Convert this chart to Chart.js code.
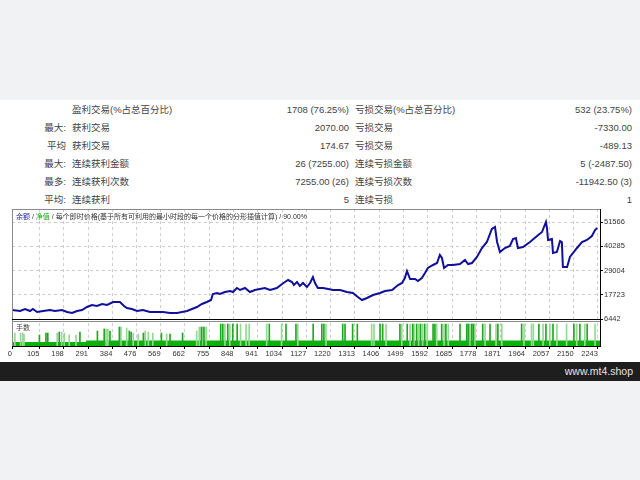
<!DOCTYPE html>
<html>
<head>
<meta charset="utf-8">
<script src="https://cdn.jsdelivr.net/npm/chart.js@4.4.0/dist/chart.umd.min.js"></script>
<style>
html, body { margin: 0; padding: 0; }
body { width: 640px; height: 480px; position: relative; overflow: hidden; background: #f1f2f4;
       font-family: "Liberation Sans", "Noto Sans CJK SC", sans-serif; }
#sheet { position: absolute; left: 0; top: 100px; width: 640px; height: 262px; background: #fff; }
.c { position: absolute; font-size: 9.5px; line-height: 14px; color: #444; white-space: nowrap; }
.r { text-align: right; }
#foot { position: absolute; left: 0; top: 362px; width: 640px; height: 19px; background: #1e1e1e; }
#foot span { position: absolute; right: 7px; top: 3px; font-size: 10.5px; color: #e4e4e4; }
#chart { position: absolute; left: 0; top: 200px; }
#cap { position: absolute; left: 16px; top: 212px; font-size: 7px; line-height: 9px; color: #333; white-space: nowrap; }
#cap .b { color: #1f1fa0; }
#cap .g { color: #19a819; }
#lots { position: absolute; left: 16px; top: 323px; font-size: 7px; line-height: 9px; color: #444; }
</style>
</head>
<body>
<div id="sheet"></div>
<div id="table"></div>
<canvas id="chart" width="640" height="162"></canvas>
<div id="cap"><span class="b">余额</span> / <span class="g">净值</span> / 每个即时价格(基于所有可利用的最小时段的每一个价格的分形插值计算) / 90.00%</div>
<div id="lots">手数</div>
<div id="foot"><span>www.mt4.shop</span></div>
<script>
// report rows
var leftHead = ['', '最大:', '平均', '最大:', '最多:', '平均:'];
var leftName = ['盈利交易(%占总百分比)', '获利交易', '获利交易', '连续获利金额', '连续获利次数', '连续获利'];
var leftVal = ['1708 (76.25%)', '2070.00', '174.67', '26 (7255.00)', '7255.00 (26)', '5'];
var rightName = ['亏损交易(%占总百分比)', '亏损交易', '亏损交易', '连续亏损金额', '连续亏损次数', '连续亏损'];
var rightVal = ['532 (23.75%)', '-7330.00', '-489.13', '5 (-2487.50)', '-11942.50 (3)', '1'];

// axes
var xTicks = [0, 105, 198, 291, 384, 476, 569, 662, 755, 848, 941, 1034, 1127, 1220, 1313, 1406, 1499, 1592, 1685, 1778, 1871, 1964, 2057, 2150, 2243];
var yTicks = [6442, 17723, 29004, 40285, 51566];

// balance curve (trade #, balance)
var balanceTrades = [0, 31, 50, 69, 80, 96, 119, 145, 165, 191, 211, 230, 249, 268, 287, 306, 325, 345, 364, 387,
    402, 413, 429, 440, 459, 479, 501, 528, 555, 578, 605, 632, 651, 670, 689, 708, 727, 746, 762, 769,
    785, 796, 815, 835, 846, 861, 873, 892, 911, 930, 949, 968, 988, 1014, 1034, 1045, 1057, 1072, 1079, 1091,
    1102, 1114, 1129, 1141, 1152, 1160, 1171, 1191, 1210, 1229, 1256, 1282, 1305, 1324, 1340, 1359, 1382, 1409, 1428, 1455,
    1478, 1493, 1504, 1512, 1524, 1543, 1554, 1569, 1581, 1592, 1612, 1627, 1638, 1646, 1654, 1669, 1688, 1715, 1734, 1746,
    1761, 1780, 1799, 1818, 1837, 1849, 1857, 1868, 1887, 1906, 1918, 1929, 1937, 1956, 1983, 2010, 2029, 2044, 2048, 2052,
    2067, 2071, 2086, 2098, 2105, 2109, 2125, 2136, 2163, 2182, 2201, 2220, 2232, 2240];
var balanceValues = [10629, 10164, 11094, 10164, 11094, 9698, 10164, 10629, 10164, 10629, 9698, 9233, 10164, 10629, 12024, 12955, 12490, 13420, 12955, 14350,
    14350, 14350, 12490, 11559, 11094, 10164, 10629, 9698, 9698, 9698, 9233, 9233, 9698, 10164, 11094, 12024, 13420, 14350, 15281, 18072,
    18537, 18072, 19002, 19468, 19002, 20863, 19933, 20863, 19002, 19933, 20398, 20863, 19933, 20863, 22724, 23654, 24585, 23654, 22259, 23654,
    21794, 23189, 21328, 23189, 25980, 23189, 20863, 20863, 20398, 19933, 19933, 19002, 18537, 16676, 15281, 16211, 17607, 18537, 19468, 19933,
    22259, 23189, 25515, 28772, 25050, 25050, 24120, 25515, 27841, 30167, 31563, 32493, 36215, 34819, 30167, 31563, 31563, 32028, 33889, 32028,
    32493, 35284, 39471, 42262, 48310, 49240, 42262, 37610, 39471, 40402, 43658, 44123, 39471, 39936, 42262, 45054, 46914, 51566, 48775, 43193,
    43658, 37145, 37610, 42728, 42262, 30632, 30632, 35284, 39471, 42262, 43193, 45054, 47845, 48775];

// lots panel
var baseTrades = [0, 283, 743, 2251];
var baseLots = [0.3, 0.4, 0.55, 0.55];
var darkTrades = [105, 130, 137, 181, 260, 327, 353, 375, 411, 449, 456, 503, 572, 605, 653, 725, 735, 799, 807, 826,
    845, 862, 985, 1049, 1087, 1153, 1186, 1194, 1266, 1275, 1304, 1322, 1409, 1419, 1485, 1513, 1534, 1549, 1564, 1580,
    1612, 1619, 1645, 1661, 1715, 1741, 1747, 1760, 1766, 1802, 1830, 1860, 1951, 2017, 2044, 2071, 2151, 2174, 2202];
var darkLots = [1.1, 1.3, 1.3, 1.4, 1.4, 1.5, 1.7, 1.5, 1.9, 1.5, 1.4, 1.3, 1.3, 1.2, 1.3, 1.9, 1.9, 2.2, 2.2, 2.2,
    2.2, 2.2, 2.2, 2.2, 2.2, 2.2, 2.2, 2.2, 2.2, 2.2, 2.2, 2.2, 2.2, 2.2, 2.2, 2.2, 2.2, 2.2, 2.2, 2.2,
    2.2, 2.2, 2.2, 2.2, 2.2, 2.2, 2.2, 2.2, 2.2, 2.2, 2.2, 2.2, 2.2, 2.2, 2.2, 2.2, 2.2, 2.2, 2.2];
var lightTrades = [11, 33, 41, 46, 173, 190, 200, 219, 245, 360, 367, 417, 439, 464, 483, 510, 522, 539, 592, 707,
    717, 730, 743, 815, 834, 875, 896, 908, 975, 1032, 1094, 1202, 1377, 1386, 1432, 1492, 1524, 1539, 1557, 1572,
    1589, 1626, 1654, 1670, 1753, 1772, 1811, 1853, 1875, 1960, 1989, 1996, 2033, 2059, 2086, 2123, 2162, 2193, 2232];
var lightLots = [1.3, 1.3, 1.3, 1.2, 1.3, 1.4, 1.3, 1.1, 1.1, 1.7, 1.7, 1.9, 1.8, 1.3, 1.2, 1.5, 1.4, 1.3, 1.2, 1.5,
    1.9, 1.9, 1.9, 2.2, 2.2, 2.2, 2.2, 2.2, 2.2, 2.2, 2.2, 2.2, 2.2, 2.2, 2.2, 2.2, 2.2, 2.2, 2.2, 2.2,
    2.2, 2.2, 2.2, 2.2, 2.2, 2.2, 2.2, 2.2, 2.2, 2.2, 2.2, 2.2, 2.2, 2.2, 2.2, 2.2, 2.2, 2.2, 2.2];

function pairs(xs, ys) {
    return xs.map(function (x, i) { return {x: x, y: ys[i]}; });
}

// build report table
var table = document.getElementById('table');
function cell(text, left, rowTop, width, right) {
    var d = document.createElement('div');
    d.className = right ? 'c r' : 'c';
    d.textContent = text;
    d.style.top = rowTop + 'px';
    if (right) { d.style.left = (left - width) + 'px'; d.style.width = width + 'px'; }
    else d.style.left = left + 'px';
    table.appendChild(d);
}
for (var i = 0; i < leftName.length; i++) {
    var rowTop = 103 + i * 18;
    cell(leftHead[i], 66, rowTop, 60, true);
    cell(leftName[i], 72, rowTop);
    cell(leftVal[i], 349, rowTop, 120, true);
    cell(rightName[i], 355, rowTop);
    cell(rightVal[i], 632, rowTop, 120, true);
}

// frame lines of the two panes
var paneFrame = {
    id: 'paneFrame',
    afterDraw: function (chart) {
        var ctx = chart.ctx, a = chart.chartArea, mid = Math.round(chart.scales.y.bottom);
        ctx.save();
        ctx.fillStyle = '#fff';
        ctx.fillRect(a.left + 1, mid, a.right - a.left - 1, 2);
        ctx.lineWidth = 1;
        ctx.strokeStyle = '#8a8a8a';
        ctx.beginPath();
        ctx.moveTo(a.left, a.top + 0.5); ctx.lineTo(a.right, a.top + 0.5);
        ctx.moveTo(a.left + 0.5, a.top); ctx.lineTo(a.left + 0.5, a.bottom);
        ctx.moveTo(a.left, mid + 2.5); ctx.lineTo(a.right, mid + 2.5);
        ctx.stroke();
        ctx.strokeStyle = '#000';
        ctx.beginPath();
        ctx.moveTo(a.left, mid + 0.5); ctx.lineTo(a.right, mid + 0.5);
        ctx.stroke();
        ctx.restore();
    }
};

Chart.defaults.font.family = '"Liberation Sans", sans-serif';
Chart.defaults.color = '#333';

var labelFont = {size: 7.5};
function plain(v) { return String(v); }

new Chart(document.getElementById('chart'), {
    type: 'line',
    data: {
        datasets: [
            {type: 'line', data: pairs(balanceTrades, balanceValues), yAxisID: 'y',
             borderColor: '#10109a', borderWidth: 2, pointRadius: 0, tension: 0, order: 0},
            {type: 'line', data: pairs(baseTrades, baseLots), yAxisID: 'yv', stepped: 'after',
             fill: 'origin', backgroundColor: '#09b109', borderWidth: 0, pointRadius: 0, order: 3},
            {type: 'bar', data: pairs(lightTrades, lightLots), yAxisID: 'yv', backgroundColor: '#93da93',
             barThickness: 1, grouped: false, order: 2},
            {type: 'bar', data: pairs(darkTrades, darkLots), yAxisID: 'yv', backgroundColor: '#1fa81f',
             barThickness: 1, grouped: false, order: 1}
        ]
    },
    options: {
        responsive: false,
        animation: false,
        devicePixelRatio: 1,
        layout: {padding: {left: 12, top: 9, right: 0, bottom: 0}},
        plugins: {legend: {display: false}, tooltip: {enabled: false}},
        scales: {
            x: {
                type: 'linear', min: 0, max: 2251, offset: false,
                grid: {offset: false, color: '#cdcdcd', tickColor: '#000', tickLength: 3, tickBorderDash: []},
                border: {display: true, color: '#000', dash: [3, 3]},
                ticks: {font: labelFont, align: 'end', padding: 0, maxRotation: 0, autoSkip: false, callback: plain},
                afterBuildTicks: function (s) { s.ticks = xTicks.map(function (v) { return {value: v}; }); },
                afterFit: function (s) { s.height = 16; }
            },
            y: {
                position: 'right', stack: 'panes', stackWeight: 110, min: 6442, max: 57614,
                grid: {color: '#cdcdcd', tickColor: '#000', tickLength: 3, tickBorderDash: []},
                border: {display: true, color: '#000', dash: [3, 3]},
                ticks: {font: labelFont, padding: 1, callback: plain},
                afterBuildTicks: function (s) { s.ticks = yTicks.map(function (v) { return {value: v}; }); },
                afterFit: function (s) { s.width = 40; }
            },
            yv: {
                position: 'right', stack: 'panes', stackWeight: 27, min: 0, max: 2.7,
                grid: {display: false},
                border: {display: true, color: '#000'},
                ticks: {display: false},
                afterFit: function (s) { s.width = 40; }
            }
        }
    },
    plugins: [paneFrame]
});
</script>
</body>
</html>
